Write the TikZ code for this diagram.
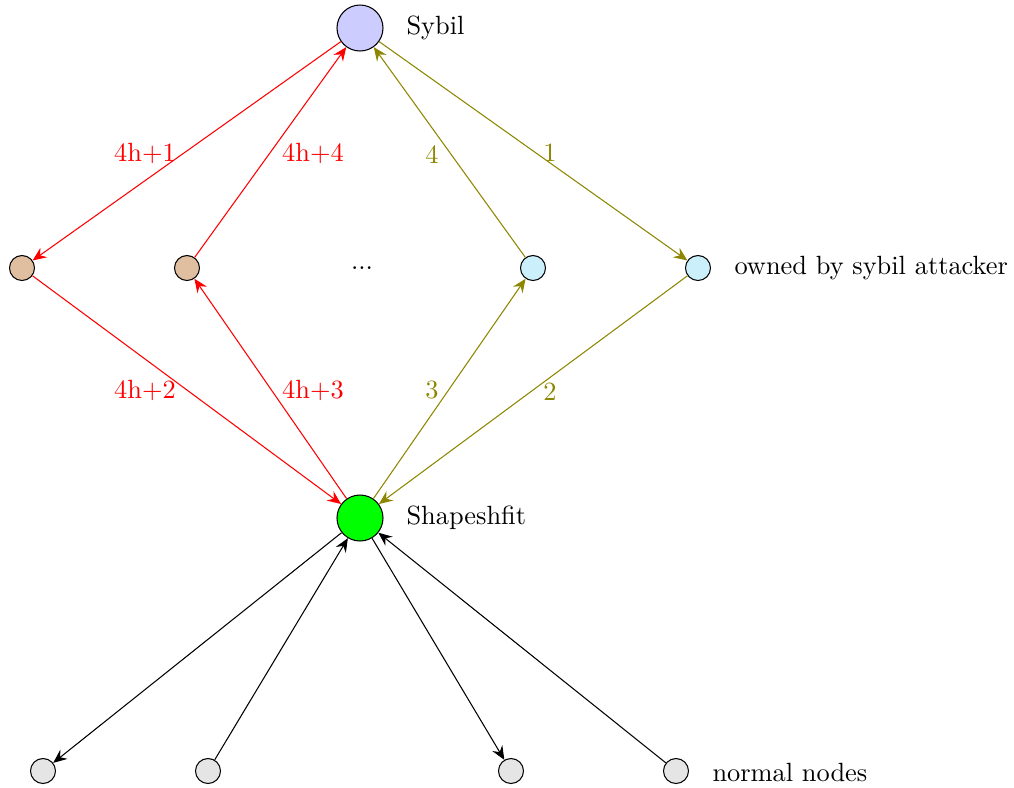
\documentclass[tikz,border=0pt]{standalone}
\usetikzlibrary{arrows.meta}
\begin{document}
\begin{tikzpicture}[x=0.3793pt,y=-0.3793pt,
  bignode/.style={circle,draw,minimum size=46*0.3793pt,inner sep=0pt},
  smallnode/.style={circle,draw,minimum size=25*0.3793pt,inner sep=0pt},
  lbl/.style={anchor=west,inner sep=0pt},
  arr/.style={-{Stealth[length=5.2pt,width=4.4pt,inset=1.8pt]}},
  redarr/.style={arr,red},
  olarr/.style={arr,olive},
  edgelbl/.style={inner sep=0pt}]
\useasboundingbox (0,0) rectangle (1014,787);
\node[bignode,fill=blue!20] (syb) at (360,28) {};
\node[bignode,fill=green] (sha) at (360,518) {};
\node[smallnode,fill=brown!50] (b1) at (22,268) {};
\node[smallnode,fill=brown!50] (b2) at (187,268) {};
\node (dots) at (362,268) {...};
\node[smallnode,fill=cyan!20] (c1) at (533,268) {};
\node[smallnode,fill=cyan!20] (c2) at (698,268) {};
\node[smallnode,fill=gray!20] (n1) at (43,771) {};
\node[smallnode,fill=gray!20] (n2) at (208,771) {};
\node[smallnode,fill=gray!20] (n3) at (511,771) {};
\node[smallnode,fill=gray!20] (n4) at (676,771) {};
\node[lbl] (tsyb) at (406,28) {Sybil};
\node[lbl] (tsha) at (406,518) {Shapeshfit};
\node[lbl] (town) at (734,268) {owned by sybil attacker};
\node[lbl] (tnorm) at (712,772) {normal nodes};
\draw[redarr] (syb) -- (b1);
\draw[redarr] (b1) -- (sha);
\draw[redarr] (sha) -- (b2);
\draw[redarr] (b2) -- (syb);
\draw[olarr] (syb) -- (c2);
\draw[olarr] (c2) -- (sha);
\draw[olarr] (sha) -- (c1);
\draw[olarr] (c1) -- (syb);
\draw[arr] (sha) -- (n1);
\draw[arr] (n2) -- (sha);
\draw[arr] (sha) -- (n3);
\draw[arr] (n4) -- (sha);
\node[edgelbl,text=red] (l1) at (145,153) {4h+1};
\node[edgelbl,text=red] (l4) at (313,153) {4h+4};
\node[edgelbl,text=red] (l2) at (145,390) {4h+2};
\node[edgelbl,text=red] (l3) at (313,390) {4h+3};
\node[edgelbl,text=olive] (o4) at (432,155) {4};
\node[edgelbl,text=olive] (o1) at (550,153) {1};
\node[edgelbl,text=olive] (o3) at (432,390) {3};
\node[edgelbl,text=olive] (o2) at (550,392) {2};
\end{tikzpicture}
\end{document}
